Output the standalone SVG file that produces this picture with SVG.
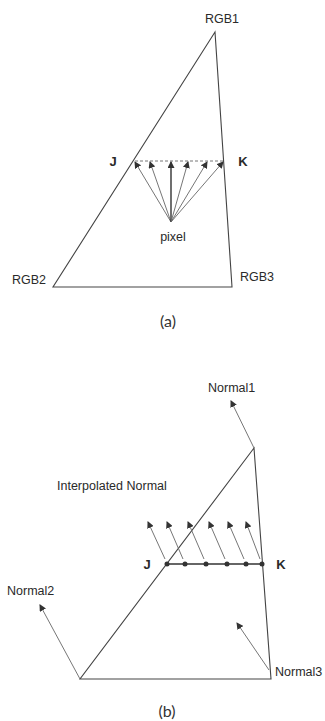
<svg xmlns="http://www.w3.org/2000/svg" width="325" height="721" viewBox="0 0 325 721">
<style>
.edge{stroke:#444;stroke-width:1.1;fill:none}
.thin{stroke:#666;stroke-width:0.9;fill:none}
.lbl{font-family:"Liberation Sans",Arial,sans-serif;font-size:12.5px;fill:#2a2a2a}
.bold{font-weight:bold;font-size:13px}
.cap{font-family:Lato,"Liberation Sans",sans-serif;font-size:16px;fill:#333}
.dot{fill:#333}
</style>
<defs>
<marker id="ah" markerWidth="7" markerHeight="7" refX="6" refY="3.5" orient="auto" markerUnits="userSpaceOnUse">
<path d="M0,0 L7,3.5 L0,7 Z" fill="#333"/>
</marker>
</defs>
<g id="triangleA">
<path class="edge" d="M215,32 L53,287 L232,287 Z"/>
</g>
<g id="scanlineA">
<line x1="135" y1="161" x2="223" y2="161" stroke="#777" stroke-width="1" stroke-dasharray="3,2"/>
</g>
<g id="connectorsA">
<line class="thin" x1="171" y1="222" x2="135" y2="162" marker-end="url(#ah)"/>
<line class="thin" x1="171" y1="222" x2="150" y2="162" marker-end="url(#ah)"/>
<line x1="171" y1="222" x2="171" y2="162" stroke="#333" stroke-width="1.4" marker-end="url(#ah)"/>
<line class="thin" x1="171" y1="222" x2="188" y2="162" marker-end="url(#ah)"/>
<line class="thin" x1="171" y1="222" x2="207" y2="162" marker-end="url(#ah)"/>
<line class="thin" x1="171" y1="222" x2="223" y2="162" marker-end="url(#ah)"/>
</g>
<g id="labelsA">
<text class="lbl" x="222" y="23" text-anchor="middle">RGB1</text>
<text class="lbl bold" x="113" y="166" text-anchor="middle">J</text>
<text class="lbl bold" x="243" y="166" text-anchor="middle">K</text>
<text class="lbl" x="173" y="241" text-anchor="middle">pixel</text>
<text class="lbl" x="12" y="284">RGB2</text>
<text class="lbl" x="240" y="281">RGB3</text>
<text class="cap" x="168" y="327" text-anchor="middle">(a)</text>
</g>
<g id="triangleB">
<path class="edge" d="M254,448 L80,679 L271,679 Z"/>
</g>
<g id="scanlineB">
<line x1="167" y1="564" x2="262" y2="564" stroke="#333" stroke-width="1.3"/>
<circle class="dot" cx="167" cy="564" r="2.5"/>
<circle class="dot" cx="185" cy="564" r="2.5"/>
<circle class="dot" cx="206" cy="564" r="2.5"/>
<circle class="dot" cx="227" cy="564" r="2.5"/>
<circle class="dot" cx="246" cy="564" r="2.5"/>
<circle class="dot" cx="262" cy="564" r="2.5"/>
</g>
<g id="connectorsB">
<line class="thin" x1="165" y1="559" x2="148" y2="522" marker-end="url(#ah)"/>
<line class="thin" x1="183" y1="559" x2="167" y2="522" marker-end="url(#ah)"/>
<line class="thin" x1="204" y1="559" x2="188" y2="522" marker-end="url(#ah)"/>
<line class="thin" x1="225" y1="559" x2="209" y2="522" marker-end="url(#ah)"/>
<line class="thin" x1="244" y1="559" x2="228" y2="522" marker-end="url(#ah)"/>
<line class="thin" x1="260" y1="559" x2="246" y2="522" marker-end="url(#ah)"/>
<line class="thin" x1="254" y1="448" x2="231" y2="401" marker-end="url(#ah)"/>
<line class="thin" x1="80" y1="679" x2="40" y2="605" marker-end="url(#ah)"/>
<line class="thin" x1="269" y1="670" x2="237" y2="623" marker-end="url(#ah)"/>
</g>
<g id="labelsB">
<text class="lbl" x="208" y="392">Normal1</text>
<text class="lbl" x="57" y="490">Interpolated Normal</text>
<text class="lbl bold" x="147" y="569" text-anchor="middle">J</text>
<text class="lbl bold" x="281" y="569" text-anchor="middle">K</text>
<text class="lbl" x="7" y="595">Normal2</text>
<text class="lbl" x="275" y="676">Normal3</text>
<text class="cap" x="167" y="717" text-anchor="middle">(b)</text>
</g>
</svg>
